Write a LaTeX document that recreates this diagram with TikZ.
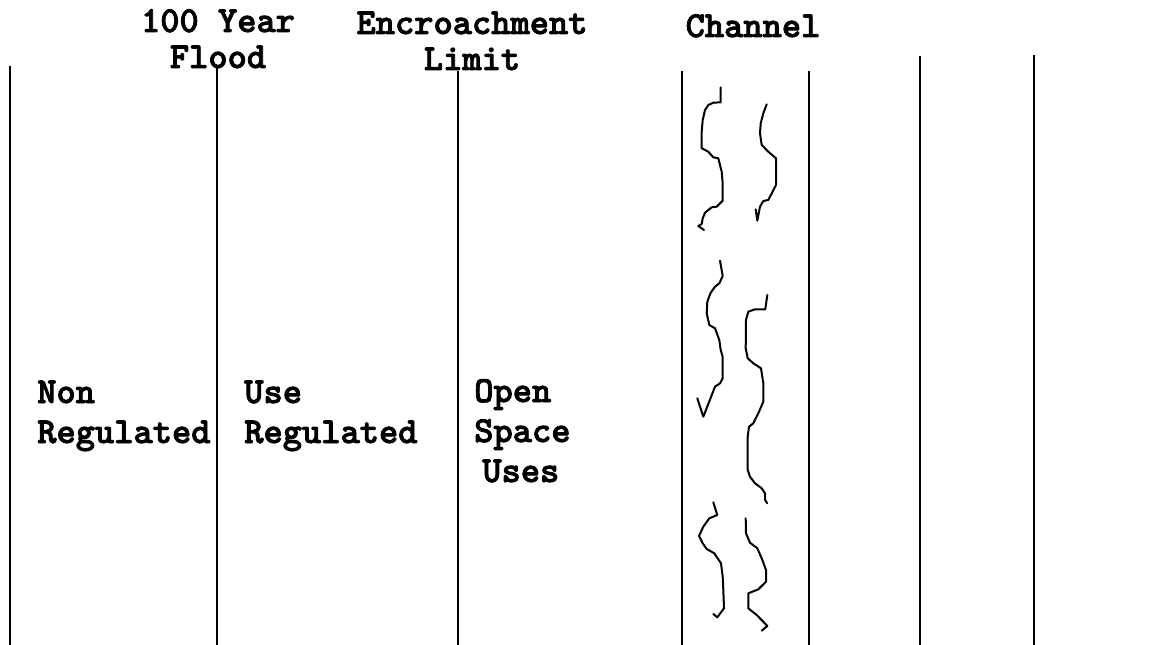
\documentclass[tikz,border=0pt]{standalone}
\usepackage{fontspec}
\newfontfamily\monobold{lmmonolt10-bold}[Extension=.otf, FakeBold=2.2]
\begin{document}
\begin{tikzpicture}[x=0.75pt,y=-0.75pt,
  rule/.style={line width=1.5pt},
  bank/.style={line width=1.5pt, line join=round, line cap=round},
  lbl/.style={font=\fontsize{27.5}{30}\selectfont\monobold, inner sep=0pt, align=left, anchor=base west},
  ttl/.style={font=\fontsize{27.5}{27}\selectfont\monobold, inner sep=0pt, align=center, anchor=base}]
\useasboundingbox (0,0) rectangle (1156,645);

% zone boundaries
\draw[rule] (10,66) -- (10,645);
\draw[rule] (217,67) -- (217,645);
\draw[rule] (458,71) -- (458,645);
\draw[rule] (682,71) -- (682,645);
\draw[rule] (809,71) -- (809,645);
\draw[rule] (920,56) -- (920,645);
\draw[rule] (1034,55) -- (1034,645);

% headings (anchored at the baseline of the last line)
\node[ttl] (flood) at (218,68) {100 Year\\Flood};
\node[ttl] (encr) at (472,70) {Encroachment\\Limit};
\node[ttl] (chan) at (753,37) {Channel};

% zone labels (anchored at the baseline of the last line)
\node[lbl] (nonreg) at (37,443) {Non\\Regulated};
\node[lbl] (usereg) at (244,443) {Use\\Regulated};
\node[lbl] (open) at (474,482) {Open\\Space\\\hspace*{0.22em}Uses};

% channel banks, upper reach
\draw[bank] (720.7,87.3) -- (720.7,102.3) -- (713.3,102.7) -- (708.3,105) -- (705,110)
  -- (702.7,120) -- (701.7,131.7) -- (701.7,148.3) -- (708.3,151.7) -- (713.3,157.3)
  -- (718.3,158.3) -- (721.7,171.7) -- (722.7,183.3) -- (722.7,200.7) -- (716.7,206.7)
  -- (711.7,207.3) -- (705,212.7) -- (702.7,218.3) -- (701.7,224) -- (698.3,226) -- (704,230);
\draw[bank] (766.7,104.3) -- (763.3,113.3) -- (760.7,123.3) -- (760,133.3) -- (761.7,145)
  -- (768.3,151.7) -- (776,158.3) -- (776,185) -- (768.3,200) -- (763.3,201)
  -- (760,206.7) -- (757.3,220.7) -- (755.7,209.3);

% channel banks, middle reach
\draw[bank] (720,260.7) -- (722.7,276) -- (719.3,283.3) -- (715,286.7) -- (710.7,292.7)
  -- (707.3,301.7) -- (706.7,313.3) -- (709.3,325) -- (715,328.3) -- (719.3,340)
  -- (720.7,350) -- (722.7,356.7) -- (722.7,378.3) -- (720,383.3) -- (715,386.7)
  -- (703.3,416.7) -- (697.3,398.3);
\draw[bank] (767.3,295) -- (765.3,309.3) -- (755,309.3) -- (748.3,311.7) -- (746,320)
  -- (745.7,348.3) -- (747.7,358.3) -- (753.3,363.3) -- (761,368.3) -- (763.3,383.3)
  -- (763.3,401.7) -- (758.3,413.3) -- (753.3,423.3) -- (749,426.7) -- (747.7,436.7)
  -- (747.7,470) -- (750,476.7) -- (755,483.3) -- (761.7,488.3) -- (765,493.3)
  -- (765,500) -- (767.3,503.3);

% channel banks, lower reach
\draw[bank] (713.3,502.3) -- (717.3,515) -- (709.3,518.3) -- (703.3,526.7) -- (699,536)
  -- (702.7,543.3) -- (706.7,549) -- (714.3,553.3) -- (721,563.3) -- (722.7,576.7)
  -- (723.3,590) -- (724,608.3) -- (717.3,617.3) -- (713.3,614);
\draw[bank] (745.7,518.3) -- (746,533.3) -- (750,542.7) -- (757.3,548.3) -- (761.7,558.3)
  -- (766,570) -- (766,581.7) -- (758.3,589.3) -- (748.3,593.3) -- (748.3,608.3)
  -- (756.7,615) -- (763.3,621.7) -- (767.3,626) -- (761.7,630.7);
\end{tikzpicture}
\end{document}
